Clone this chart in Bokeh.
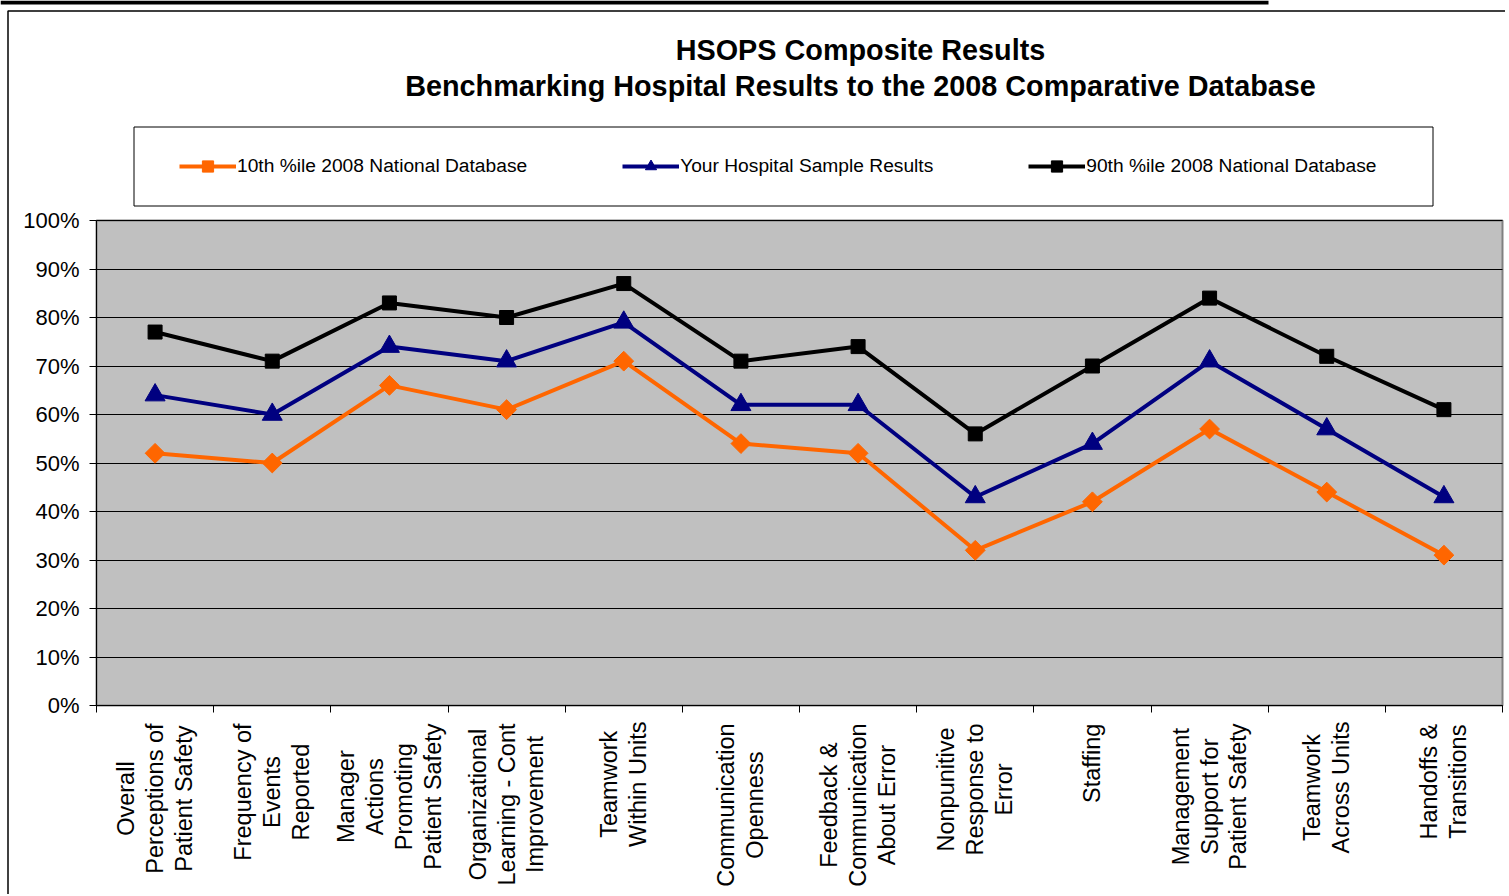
import numpy as np
from bokeh.plotting import figure
from bokeh.models import (FixedTicker, PrintfTickFormatter, Legend, LegendItem, Label,
                          Range1d, BoxAnnotation, Grid)
from bokeh.core.properties import value
from bokeh.embed import file_html
from bokeh.resources import INLINE

title_lines = ["HSOPS Composite Results",
               "Benchmarking Hospital Results to the 2008 Comparative Database"]

categories = [
    "Overall\nPerceptions of\nPatient Safety",
    "Frequency of\nEvents\nReported",
    "Manager\nActions\nPromoting\nPatient Safety",
    "Organizational\nLearning - Cont\nImprovement",
    "Teamwork\nWithin Units",
    "Communication\nOpenness",
    "Feedback &\nCommunication\nAbout Error",
    "Nonpunitive\nResponse to\nError",
    "Staffing",
    "Management\nSupport for\nPatient Safety",
    "Teamwork\nAcross Units",
    "Handoffs &\nTransitions",
]

series_names = ["10th %ile 2008 National Database",
                "Your Hospital Sample Results",
                "90th %ile 2008 National Database"]
p10_values = [52, 50, 66, 61, 71, 54, 52, 32, 42, 57, 44, 31]
hospital_values = [64, 60, 74, 71, 79, 62, 62, 43, 54, 71, 57, 43]
p90_values = [77, 71, 83, 80, 87, 71, 74, 56, 70, 84, 72, 61]
y_ticks = [0, 10, 20, 30, 40, 50, 60, 70, 80, 90, 100]

FONT = "Liberation Sans"
CAT_FONT_PX = 23.5

# ---- layout geometry (pixels on the canvas) ----
W, H = 1505, 894
PLOT_LEFT, PLOT_RIGHT = 96, 1502
PLOT_TOP, PLOT_BOTTOM = 220, 705
LABEL_GAP = 18

n = len(categories)
centers = [i + 0.5 for i in range(n)]
boundaries = list(range(n + 1))
y_lo, y_hi = y_ticks[0], y_ticks[-1]

px_x = (PLOT_RIGHT - PLOT_LEFT) / n
px_y = (PLOT_BOTTOM - PLOT_TOP) / (y_hi - y_lo)
x_range = Range1d(-PLOT_LEFT / px_x, n + (W - PLOT_RIGHT) / px_x)
y_range = Range1d(y_lo - (H - PLOT_BOTTOM) / px_y, y_hi + PLOT_TOP / px_y)

p = figure(width=W, height=H, output_backend="svg", toolbar_location=None,
           x_range=x_range, y_range=y_range, min_border=0,
           background_fill_color="white", border_fill_color="white")
p.outline_line_color = None
p.title_location = None


def screen_box(**kw):
    return BoxAnnotation(left_units="screen", right_units="screen",
                         top_units="screen", bottom_units="screen", **kw)


# chart frame decorations
p.add_layout(screen_box(left=0, right=1268, top=H, bottom=H - 4,
                        fill_color="black", fill_alpha=1, line_color=None))
p.add_layout(screen_box(left=7.5, right=W + 20, top=H - 10.5, bottom=-20,
                        fill_alpha=0, line_color="black", line_alpha=1, line_width=1.5))

# grey plot area
p.quad(left=[0], right=[n], bottom=[y_lo], top=[y_hi],
       fill_color="#C0C0C0", line_color="#808080", line_width=2, level="image")

# y axis
p.yaxis.fixed_location = 0
p.yaxis.bounds = (y_lo, y_hi)
p.yaxis.ticker = FixedTicker(ticks=y_ticks)
p.yaxis.formatter = PrintfTickFormatter(format="%d%%")
p.yaxis.major_label_text_font = FONT
p.yaxis.major_label_text_font_size = "22px"
p.yaxis.major_label_text_color = "black"
p.yaxis.axis_line_color = "black"
p.yaxis.major_tick_line_color = "black"
p.yaxis.major_tick_out = 7
p.yaxis.major_tick_in = 0
p.yaxis.minor_tick_line_color = None
p.yaxis.major_label_standoff = 10

# x axis (tick marks at category boundaries)
p.xaxis.fixed_location = y_lo
p.xaxis.bounds = (0, n)
p.xaxis.ticker = FixedTicker(ticks=centers, minor_ticks=boundaries)
p.xaxis.major_label_overrides = {c: "" for c in centers}
p.xaxis.axis_line_color = "black"
p.xaxis.major_tick_line_color = None
p.xaxis.minor_tick_line_color = "black"
p.xaxis.minor_tick_out = 7
p.xaxis.minor_tick_in = 0

# horizontal grid limited to the plot area
p.xgrid.grid_line_color = None
p.ygrid.ticker = FixedTicker(ticks=y_ticks)
p.ygrid.grid_line_color = "black"
p.ygrid.grid_line_width = 1
if "cross_bounds" in Grid.properties():
    p.ygrid.cross_bounds = (0, n)
else:
    p.ygrid.grid_line_color = None
    p.yaxis.level = "underlay"
    p.yaxis.major_tick_in = PLOT_RIGHT - PLOT_LEFT

# category labels: centred lines, block top just under the axis
ARIAL = {' ': 278, '&': 667, '-': 333, 'A': 667, 'C': 722, 'E': 667, 'F': 611, 'H': 722,
         'I': 278, 'L': 556, 'M': 833, 'N': 722, 'O': 778, 'P': 667, 'R': 722, 'S': 667,
         'T': 611, 'W': 944, 'a': 556, 'b': 556, 'c': 500, 'd': 556, 'e': 556, 'f': 278,
         'g': 556, 'h': 556, 'i': 222, 'j': 222, 'k': 500, 'l': 222, 'm': 833, 'n': 556,
         'o': 556, 'p': 556, 'q': 556, 'r': 333, 's': 500, 't': 278, 'u': 556, 'v': 500,
         'w': 722, 'x': 500, 'y': 500, 'z': 500}


def text_px(s):
    return max(sum(ARIAL.get(ch, 556) for ch in line) for line in s.split("\n")) * CAT_FONT_PX / 1000


label_y = [y_lo - (LABEL_GAP + text_px(c) / 2) / px_y for c in categories]
p.text(x=centers, y=label_y, text=categories, angle=np.pi / 2,
       text_align="center", text_baseline="middle",
       text_font=value(FONT), text_font_size=f"{CAT_FONT_PX}px",
       text_line_height=1.11, text_color="black")

# series
specs = [
    (p10_values, "#FF6600", "square", 14, np.pi / 4),
    (hospital_values, "#000080", "triangle", 20, 0),
    (p90_values, "black", "square", 14, 0),
]
items = []
for name, (vals, color, marker, size, ang) in zip(series_names, specs):
    ln = p.line(centers, vals, line_color=color, line_width=4)
    sc = p.scatter(centers, vals, marker=marker, size=size, angle=ang,
                   fill_color=color, line_color=color)
    items.append(LegendItem(label=name, renderers=[ln, sc]))

# legend box and legend
p.add_layout(screen_box(left=133.5, right=1432.5, top=H - 126.5, bottom=H - 205.5,
                        fill_color="white", fill_alpha=1, line_color="black", line_alpha=1,
                        line_width=1))
legend = Legend(items=items, orientation="horizontal",
                location=(179, H - 179.5),
                spacing=95, padding=25, label_standoff=1, glyph_width=57, glyph_height=28,
                label_text_font=FONT, label_text_font_size="19.2px", label_text_color="black",
                border_line_color=None, background_fill_alpha=0, margin=0)
p.add_layout(legend, "center")

title = Label(x=860, y=H - 67, x_units="screen", y_units="screen",
              text="\n".join(title_lines), text_align="center", text_baseline="middle",
              text_font=FONT, text_font_style="bold", text_font_size="28.8px",
              text_line_height=1.125, text_color="black")
p.add_layout(title)

open("out.html", "w").write(file_html(p, INLINE))
